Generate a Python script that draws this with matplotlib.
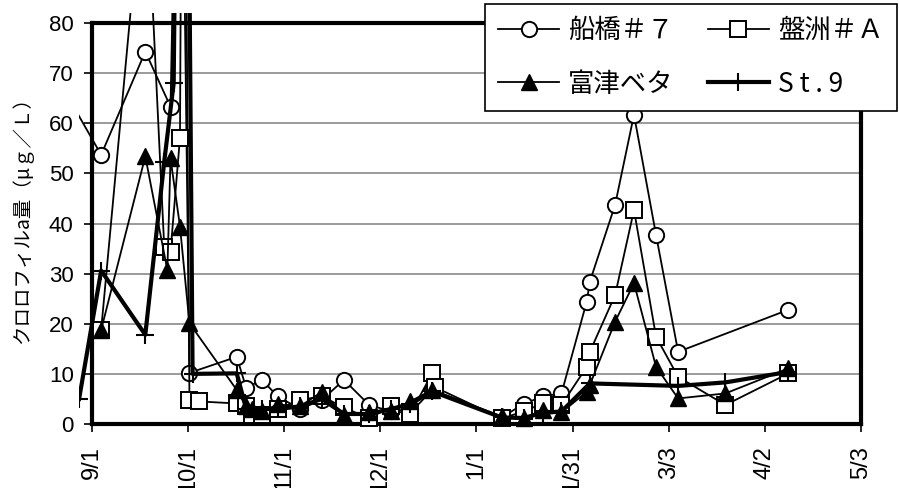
import matplotlib
matplotlib.use("Agg")
import matplotlib.pyplot as plt
import matplotlib.transforms as mtransforms
from matplotlib.font_manager import FontProperties
import pandas as pd

# ---- data: chlorophyll-a (ug/L) by sampling date ----
origin = "2002-09-01"

funabashi_dates = ["2002-08-22", "2002-09-04", "2002-09-18", "2002-09-26", "2002-09-29",
                   "2002-10-02", "2002-10-17", "2002-10-20", "2002-10-25", "2002-10-30",
                   "2002-11-06", "2002-11-13", "2002-11-20", "2002-11-28", "2002-12-05",
                   "2002-12-11", "2002-12-18", "2003-01-09", "2003-01-16", "2003-01-22",
                   "2003-01-28", "2003-02-05", "2003-02-06", "2003-02-14", "2003-02-20",
                   "2003-02-27", "2003-03-06", "2003-04-10"]
funabashi_values = [68, 53.7, 74.3, 63.3, 160, 10.2, 13.4, 7.2, 8.8, 5.5,
                    3.0, 4.8, 8.8, 3.8, 2.5, 2.2, 6.8, 1.3, 4.0, 5.5,
                    6.1, 24.4, 28.4, 43.7, 61.7, 37.7, 14.4, 22.8]

banzu_dates = ["2002-09-04", "2002-09-18", "2002-09-24", "2002-09-26", "2002-09-29",
               "2002-09-30", "2002-10-02", "2002-10-05", "2002-10-17", "2002-10-20",
               "2002-10-22", "2002-10-25", "2002-10-30", "2002-11-06", "2002-11-13",
               "2002-11-20", "2002-11-28", "2002-12-05", "2002-12-11", "2002-12-18",
               "2002-12-19", "2003-01-09", "2003-01-16", "2003-01-22", "2003-01-28",
               "2003-02-05", "2003-02-06", "2003-02-14", "2003-02-20", "2003-02-27",
               "2003-03-06", "2003-03-21", "2003-04-10"]
banzu_values = [18.8, 114, 35.4, 34.4, 57.1, 180, 4.8, 4.5, 4.1, 3.5,
                1.8, 1.8, 3.0, 4.8, 5.5, 3.3, 1.1, 3.5, 2.0, 10.1,
                7.3, 1.1, 2.5, 4.1, 3.8, 11.4, 14.4, 25.7, 42.7, 17.4,
                9.4, 3.8, 10.1]

futtsu_dates = ["2002-09-04", "2002-09-18", "2002-09-25", "2002-09-26", "2002-09-29",
                "2002-10-02", "2002-10-17", "2002-10-20", "2002-10-22", "2002-10-25",
                "2002-10-30", "2002-11-06", "2002-11-13", "2002-11-20", "2002-11-28",
                "2002-12-05", "2002-12-11", "2002-12-18", "2003-01-09", "2003-01-16",
                "2003-01-22", "2003-01-28", "2003-02-05", "2003-02-06", "2003-02-14",
                "2003-02-20", "2003-02-27", "2003-03-06", "2003-03-21", "2003-04-10"]
futtsu_values = [18.8, 53.4, 30.7, 53.0, 39.4, 20.1, 6.8, 3.5, 3.0, 2.5,
                 3.9, 3.5, 6.4, 1.8, 2.3, 2.5, 4.5, 6.8, 1.5, 1.1,
                 2.8, 2.3, 6.4, 7.8, 20.4, 28.1, 11.4, 5.1, 6.1, 11.1]

st9_dates = ["2002-08-28", "2002-09-04", "2002-09-18", "2002-09-24", "2002-09-27",
             "2002-09-30", "2002-10-03", "2002-10-17", "2002-10-20", "2002-10-25",
             "2002-10-30", "2002-11-06", "2002-11-13", "2002-11-20", "2002-11-28",
             "2002-12-05", "2002-12-11", "2002-12-18", "2003-01-09", "2003-01-16",
             "2003-01-22", "2003-01-28", "2003-02-06", "2003-03-06", "2003-03-21",
             "2003-04-10"]
st9_values = [5.0, 30.6, 17.8, 52.3, 68.0, 250, 10.0, 10.1, 3.0, 3.0,
              3.0, 3.5, 5.0, 2.0, 2.0, 3.0, 4.0, 6.5, 1.3, 1.2,
              2.2, 2.5, 8.1, 7.6, 8.3, 10.4]

series_labels = ["船橋＃７", "盤洲＃Ａ", "富津ベタ", "S t . 9"]
tick_days = [0, 30.5, 61, 91.5, 122, 152.5, 183, 213.5, 244]
tick_labels = ["9/1", "10/1", "11/1", "12/1", "1/1", "1/31", "3/3", "4/2", "5/3"]
y_ticks = list(range(0, 81, 10))
y_label = "クロロフィルa量（μｇ／Ｌ）"


def to_days(dates):
    return (pd.to_datetime(dates) - pd.Timestamp(origin)).days.to_numpy()


W, H = 899, 488
fig = plt.figure(figsize=(W / 100, H / 100), dpi=100)
left, right, top, bottom = 91.7, 861, 23, 424
ax = fig.add_axes([left / W, 1 - bottom / H, (right - left) / W, (bottom - top) / H])

# clipping region a little wider than the plot frame (left/top/bottom)
clip = mtransforms.TransformedBbox(
    mtransforms.Bbox([[-0.016, -0.03], [1.0, 1.026]]), ax.transAxes)

styles = [
    dict(marker="o", ms=11, mfc="white", mec="black", mew=1.4, lw=1.3),
    dict(marker="s", ms=11, mfc="white", mec="black", mew=1.4, lw=1.3),
    dict(marker="^", ms=12, mfc="black", mec="black", mew=1.0, lw=1.3),
    dict(marker="+", ms=13, mfc="black", mec="black", mew=1.5, lw=3.0),
]
all_dates = [funabashi_dates, banzu_dates, futtsu_dates, st9_dates]
all_values = [funabashi_values, banzu_values, futtsu_values, st9_values]

handles = []
for i, (d, v, st, lab) in enumerate(zip(all_dates, all_values, styles, series_labels)):
    (ln,) = ax.plot(to_days(d), v, color="black", label=lab, zorder=3 + i, **st)
    ln.set_clip_box(clip)
    handles.append(ln)

ax.set_xlim(0, 244)
ax.set_ylim(0, 80)
ax.set_xticks(tick_days)
ax.set_xticklabels(tick_labels, rotation=90, fontfamily="Liberation Sans", fontsize=17)
ax.set_yticks(y_ticks)
ax.set_yticklabels([str(t) for t in y_ticks], fontfamily="Liberation Sans", fontsize=16)
ax.tick_params(axis="both", direction="out", length=6, width=1.2, color="black")
ax.tick_params(axis="x", pad=10)
ax.tick_params(axis="y", pad=7)

ax.yaxis.grid(True, color="#808080", lw=1.1)
ax.set_axisbelow(True)
for s in ax.spines.values():
    s.set_linewidth(3.0)
    s.set_color("black")

ax.set_ylabel(y_label, family=["Noto Sans CJK JP", "DejaVu Sans"], fontsize=14, va="center")
ax.yaxis.set_label_coords((22 - left) / (right - left), (bottom - 216) / (bottom - top))

order = [0, 2, 1, 3]
leg = ax.legend([handles[k] for k in order], [series_labels[k] for k in order],
                ncol=2, loc="upper left", bbox_to_anchor=(485 / W, 1 - 4 / H),
                bbox_transform=fig.transFigure,
                prop=FontProperties(family="Noto Sans CJK JP", size=19),
                frameon=True, fancybox=False, edgecolor="black", framealpha=1,
                borderpad=0.5, labelspacing=1.0, handlelength=2.3, handletextpad=0.35,
                columnspacing=1.3, borderaxespad=0, numpoints=1)
leg.get_frame().set_linewidth(1.2)
leg.set_zorder(20)

fig.savefig("out.png", dpi=100)
